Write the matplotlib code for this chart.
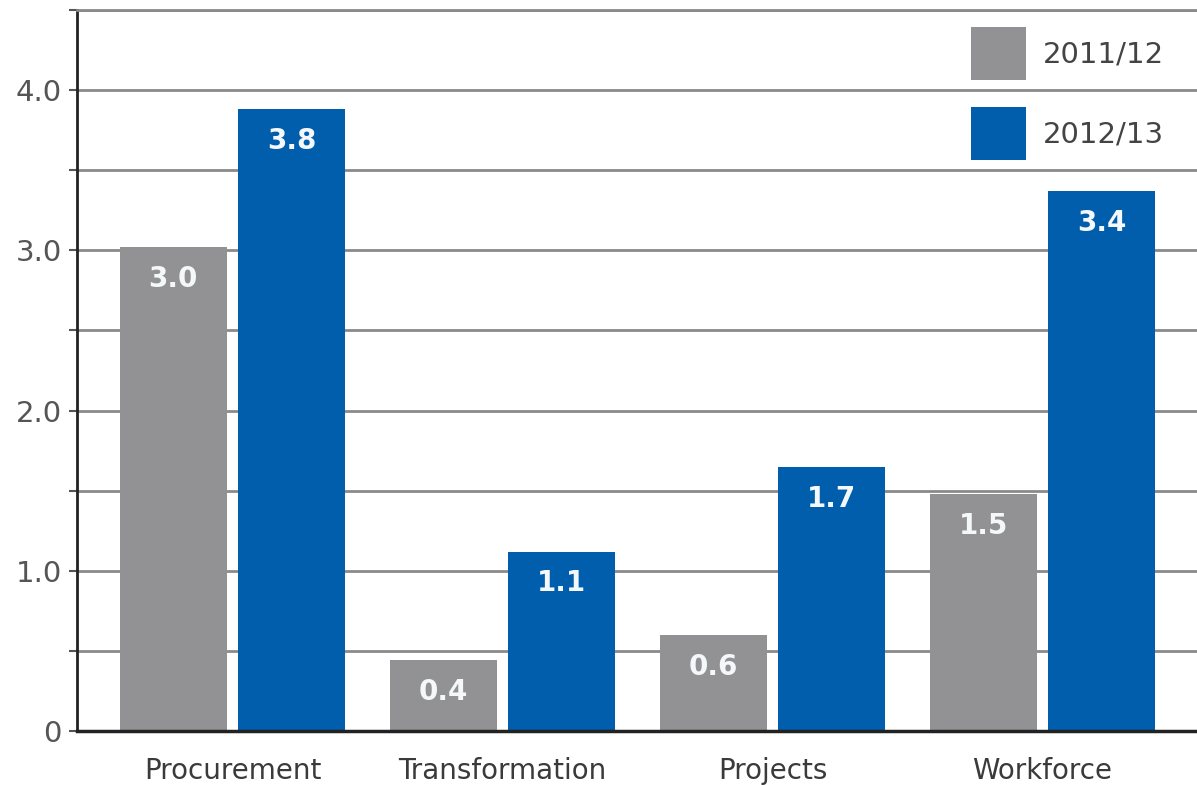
import numpy as np
import matplotlib
matplotlib.use("Agg")
import matplotlib.pyplot as plt
from matplotlib.ticker import MultipleLocator, FuncFormatter

# Data
categories = ["Procurement", "Transformation", "Projects", "Workforce"]
series_names = ["2011/12", "2012/13"]
values_2011 = [3.02, 0.44, 0.60, 1.48]
values_2012 = [3.88, 1.12, 1.65, 3.37]
labels_2011 = ["3.0", "0.4", "0.6", "1.5"]
labels_2012 = ["3.8", "1.1", "1.7", "3.4"]

# Colours
C_GREY = "#929294"
C_BLUE = "#005eac"
C_GRID = "#8a8a8a"

plt.rcParams["font.family"] = ["DejaVu Sans"]

fig = plt.figure(figsize=(11.97, 7.85), dpi=100)
ax = fig.add_axes([0.0643, 0.0688, 0.9357, 0.9185])

x = np.arange(len(categories))
width = 0.396
offset = 0.219

bars_a = ax.bar(x - offset, values_2011, width, color=C_GREY, label=series_names[0], zorder=3)
bars_b = ax.bar(x + offset, values_2012, width, color=C_BLUE, label=series_names[1], zorder=3)

# Value labels inside the bars, near the top
for bars, labs in ((bars_a, labels_2011), (bars_b, labels_2012)):
    for b, lab in zip(bars, labs):
        ax.annotate(lab, (b.get_x() + b.get_width() / 2, b.get_height()),
                    xytext=(0, -23), textcoords="offset points",
                    ha="center", va="center", color="#f4f8fb",
                    fontsize=20, fontweight="bold", zorder=4)

ax.set_xlim(-0.576, 3.572)
ax.set_ylim(0, 4.5)

ax.yaxis.set_major_locator(MultipleLocator(0.5))
ax.yaxis.set_major_formatter(FuncFormatter(
    lambda v, p: "0" if v == 0 else ("%.1f" % v if abs(v - round(v)) < 1e-6 else "")))
ax.grid(axis="y", color=C_GRID, linewidth=2, zorder=0)
ax.tick_params(axis="y", length=6, width=1.5, color="#555555", pad=5,
               labelsize=21, labelcolor="#555555")

ax.set_xticks(x)
ax.set_xticklabels(categories)
ax.tick_params(axis="x", length=0, pad=19, labelsize=20, labelcolor="#3a3a3a")

ax.spines["right"].set_visible(False)
ax.spines["top"].set_color(C_GRID)
ax.spines["top"].set_linewidth(2)
ax.spines["left"].set_color("#222222")
ax.spines["left"].set_linewidth(2)
ax.spines["bottom"].set_color("#222222")
ax.spines["bottom"].set_linewidth(2.5)
ax.spines["bottom"].set_zorder(5)

leg = fig.legend(loc="upper left", bbox_to_anchor=(971 / 1197, 1 - 27 / 785),
                 frameon=False, fontsize=21, labelcolor="#444444",
                 handlelength=1.9, handleheight=2.4, handletextpad=0.55,
                 labelspacing=0.95, borderpad=0, borderaxespad=0)

fig.savefig("out.png", dpi=100)
